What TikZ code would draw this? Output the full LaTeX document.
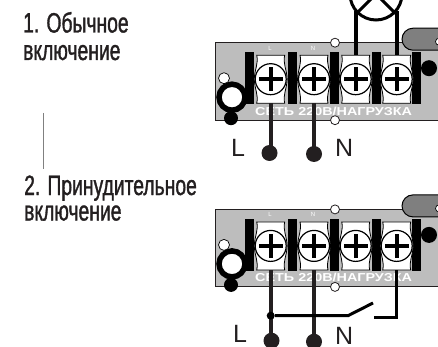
\documentclass[tikz,border=0pt]{standalone}
\usepackage{fontspec}
\setmainfont{Liberation Sans}
\newfontfamily\narrowfont[FakeStretch=0.69,FakeBold=1.2]{Liberation Sans}
\newfontfamily\silkfont[FakeStretch=1.25]{Liberation Sans Bold}
\definecolor{panelgray}{HTML}{BDBDBD}
\definecolor{pillgray}{HTML}{7F7F7F}
\definecolor{inkdark}{HTML}{231F20}
\tikzset{
  head/.style={font=\narrowfont\fontsize{28}{28}\selectfont, anchor=base west, inner sep=0pt, text=inkdark},
  letter/.style={font=\fontsize{25}{25}\selectfont, anchor=base west, inner sep=0pt, text=inkdark},
  wire/.style={draw=inkdark, line width=3.8pt},
  blackbar/.style={fill=black, draw=none, minimum width=9pt, minimum height=52pt, inner sep=0pt},
  screw/.style={circle, draw=black, fill=white, line width=1.2pt, minimum size=31pt, inner sep=0pt},
  term/.style={rectangle, minimum width=32pt, minimum height=48pt, inner sep=0pt},
  enddot/.style={circle, fill=inkdark, minimum size=16pt, inner sep=0pt},
  blackdot/.style={circle, fill=black, inner sep=0pt},
  silk/.style={text=white, font=\silkfont\fontsize{11.5}{11.5}\selectfont, inner sep=0pt, anchor=base west},
  silksmall/.style={text=white, font=\fontsize{6}{6}\selectfont, inner sep=0pt}
}
\usetikzlibrary{calc}
\newcommand{\termblock}[3]{%
  \node[term] (#1) at (#2,#3) {};
  \filldraw[fill=white, draw=black, line width=.8pt] ($(#1)+(-14,-24)$) -- ($(#1)+(14,-24)$) .. controls ($(#1)+(12,-16)$) and ($(#1)+(16,-10)$) .. ($(#1)+(16.5,0)$)
     .. controls ($(#1)+(16,10)$) and ($(#1)+(12,16)$) .. ($(#1)+(14,24)$) -- ($(#1)+(-14,24)$)
     .. controls ($(#1)+(-12,16)$) and ($(#1)+(-16,10)$) .. ($(#1)+(-16.5,0)$)
     .. controls ($(#1)+(-16,-10)$) and ($(#1)+(-12,-16)$) .. cycle;
  \node[screw] (#1s) at (#1) {};
  \fill[black] ($(#1)+(-12,-2)$) rectangle ($(#1)+(12,2)$);
  \fill[black] ($(#1)+(-2,-12)$) rectangle ($(#1)+(2,12)$);
}
\newcommand{\panelblock}[2]{% prefix, top y
  \fill[panelgray] (215,#2) rectangle (440,#2+77.5);
  \draw[inkdark, line width=1pt] (440,#2) -- (215,#2) -- (215,#2+77.5) -- (440,#2+77.5);
  \node[rectangle, draw=black, line width=1pt, fill=pillgray, rounded corners=11pt, minimum height=22pt, minimum width=70pt, inner sep=0pt] (#1pill) at (437,#2-3.5) {};
  \node[circle, draw=black, fill=white, line width=.7pt, minimum size=7pt, inner sep=0pt] (#1q) at (439,#2-1) {};
  \fill[white, draw=inkdark, line width=.8pt] (335,#2) circle (4.5);
  \fill[white, draw=inkdark, line width=.8pt] (335,#2+77.5) circle (4.5);
  \node[blackbar] (#1b1) at (249.5,#2+35.5) {};
  \node[blackbar] (#1b2) at (292.5,#2+35.5) {};
  \node[blackbar] (#1b3) at (334.5,#2+35.5) {};
  \node[blackbar] (#1b4) at (376.5,#2+35.5) {};
  \node[blackbar] (#1b5) at (416.5,#2+35.5) {};
  \node[silk] (#1txt) at (255,#2+72.5) {СЕТЬ 220В/НАГРУЗКА};
  \node[silksmall] (#1l) at (270,#2+5.5) {L};
  \node[silksmall] (#1n) at (313,#2+5.5) {N};
  \termblock{#1t1}{270.7}{#2+36.5}
  \termblock{#1t2}{314}{#2+36.5}
  \termblock{#1t3}{355.7}{#2+36.5}
  \termblock{#1t4}{396.7}{#2+36.5}
  \node[blackdot, minimum size=14pt] (#1k) at (231,#2+75.5) {};
  \node[circle, draw=black, fill=white, line width=5.5pt, minimum size=26pt, inner sep=0pt] (#1r) at (232,#2+54.5) {};
  \node[circle, draw=black, fill=white, line width=.7pt, minimum size=11pt, inner sep=0pt] (#1o) at (224,#2+35.5) {};
  \node[blackdot, minimum size=16pt] (#1m) at (429,#2+25.5) {};
}
\begin{document}
\begin{tikzpicture}[x=1pt,y=-1pt]
\useasboundingbox (0,0) rectangle (438,347);
\clip (0,0) rectangle (438,347);
% headings
\node[head] (h1) at (23,32.5) {1. Обычное};
\node[head] (h2) at (23,60) {включение};
\node[head] (h3) at (24,195) {2. Принудительное};
\node[head] (h4) at (24,220.5) {включение};
\coordinate (va) at (43.3,113);
\coordinate (vb) at (43.3,169);
\draw[gray, line width=.7pt] (va) -- (vb);
% upper panel
\panelblock{a}{42.7}
\node[circle, draw=black, line width=3pt, minimum size=52pt, inner sep=0pt, fill=white] (lamp) at (376,-6) {};
\draw[black, line width=3pt] (lamp.45) -- (lamp.225) (lamp.135) -- (lamp.-45);
\draw[wire, draw=black] (at3.north) -- (at3.north |- lamp.-142);
\draw[wire, draw=black] (at4.north) -- (at4.north |- lamp.-38);
\node[enddot] (ad1) at (269.5,153) {};
\node[enddot] (ad2) at (314,154) {};
\draw[wire] (at1.south) -- (at1.south |- ad1);
\draw[wire] (at2.south) -- (at2.south |- ad2);
\node[letter] (al) at (231,157) {L};
\node[letter] (an) at (335,157) {N};
% lower panel
\panelblock{b}{209.4}
\node[enddot] (bd1) at (271.5,340.7) {};
\node[enddot] (bd2) at (314,341.7) {};
\draw[wire] (bt1.south) -- (bt1.south |- bd1);
\draw[wire] (bt2.south) -- (bt2.south |- bd2);
\node[blackdot, minimum size=8pt] (bj) at (270.7,315.7) {};
\coordinate (sa) at (348,315.7);
\coordinate (sb) at (373,303);
\coordinate (sc) at (374,317.7);
\draw[wire, draw=black, line width=3pt] (bj) -- (sa) -- (sb);
\draw[wire, draw=black, line width=3pt] (sc) -| (bt4.south);
\node[letter] (bl) at (233,342) {L};
\node[letter] (bn) at (335,344) {N};
\end{tikzpicture}
\end{document}
